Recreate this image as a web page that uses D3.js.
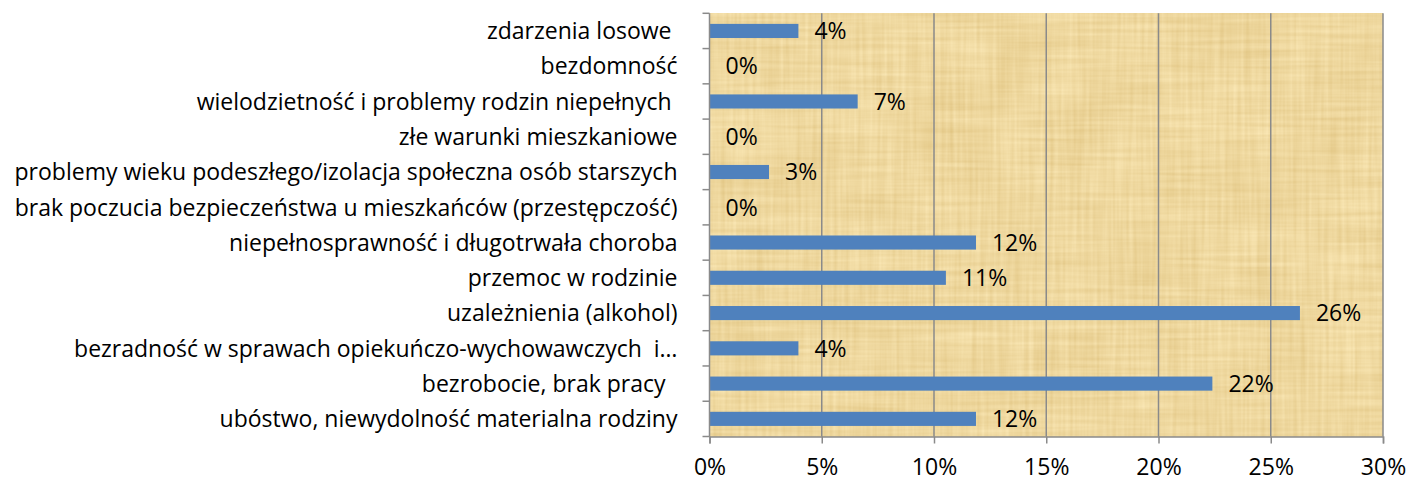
<!DOCTYPE html>
<html>
<head>
<meta charset="utf-8">
<script src="https://cdn.jsdelivr.net/npm/d3@7"></script>
<style>
  html, body { margin: 0; padding: 0; background: #fff; }
  svg text { font-family: "Open Sans", sans-serif; fill: #000; white-space: pre; }
</style>
</head>
<body>
<svg id="chart"></svg>
<script>
const WIDTH = 1410;
const HEIGHT = 481;

// categories, top to bottom as in the picture
const categories = [
    'zdarzenia losowe ',
    'bezdomność',
    'wielodzietność i problemy rodzin niepełnych ',
    'złe warunki mieszkaniowe',
    'problemy wieku podeszłego/izolacja społeczna osób starszych',
    'brak poczucia bezpieczeństwa u mieszkańców (przestępczość)',
    'niepełnosprawność i długotrwała choroba',
    'przemoc w rodzinie',
    'uzależnienia (alkohol)',
    'bezradność w sprawach opiekuńczo-wychowawczych  i…',
    'bezrobocie, brak pracy  ',
    'ubóstwo, niewydolność materialna rodziny'
];
// share in percent
const values = [3.96, 0, 6.6, 0, 2.65, 0, 11.87, 10.53, 26.3, 3.96, 22.4, 11.87];
// labels shown next to the bars
const valueLabels = ['4%', '0%', '7%', '0%', '3%', '0%', '12%', '11%', '26%', '4%', '22%', '12%'];
const xTicks = [0, 5, 10, 15, 20, 25, 30];

const FONT_SIZE = 23;
const margin = {top: 13.3, right: 27, bottom: 44.5, left: 709.5};
const innerW = WIDTH - margin.left - margin.right;
const innerH = HEIGHT - margin.top - margin.bottom;

const svg = d3.select('#chart')
    .attr('width', WIDTH)
    .attr('height', HEIGHT);

// parchment texture: crossed fibres plus some soft blotches
const defs = svg.append('defs');
const filter = defs.append('filter')
    .attr('id', 'papyrus')
    .attr('x', 0).attr('y', 0).attr('width', 1).attr('height', 1)
    .attr('color-interpolation-filters', 'sRGB');
const opaque = '1 0 0 0 0  1 0 0 0 0  1 0 0 0 0  0 0 0 0 1';
filter.append('feTurbulence')
    .attr('type', 'fractalNoise').attr('baseFrequency', '0.01 0.25')
    .attr('numOctaves', 2).attr('seed', 4).attr('result', 'hRaw');
filter.append('feColorMatrix').attr('in', 'hRaw').attr('values', opaque).attr('result', 'h');
filter.append('feTurbulence')
    .attr('type', 'fractalNoise').attr('baseFrequency', '0.25 0.01')
    .attr('numOctaves', 2).attr('seed', 9).attr('result', 'vRaw');
filter.append('feColorMatrix').attr('in', 'vRaw').attr('values', opaque).attr('result', 'v');
filter.append('feTurbulence')
    .attr('type', 'fractalNoise').attr('baseFrequency', '0.015')
    .attr('numOctaves', 2).attr('seed', 2).attr('result', 'bRaw');
filter.append('feColorMatrix').attr('in', 'bRaw').attr('values', opaque).attr('result', 'b');
filter.append('feComposite')
    .attr('in', 'h').attr('in2', 'v').attr('operator', 'arithmetic')
    .attr('k1', 0).attr('k2', 0.5).attr('k3', 0.5).attr('k4', 0).attr('result', 'hv');
filter.append('feComposite')
    .attr('in', 'hv').attr('in2', 'b').attr('operator', 'arithmetic')
    .attr('k1', 0).attr('k2', 0.8).attr('k3', 0.2).attr('k4', 0).attr('result', 'n');
filter.append('feColorMatrix')
    .attr('in', 'n')
    .attr('values', '0.16 0 0 0 0.855  0.22 0 0 0 0.735  0.32 0 0 0 0.46  0 0 0 0 1');

const x = d3.scaleLinear().domain([0, 30]).range([0, innerW]);
const yStep = d3.scaleBand().domain(d3.range(categories.length)).range([0, innerH]);
const y = d3.scaleBand().domain(d3.range(categories.length)).range([0, innerH])
    .paddingInner(0.6).paddingOuter(0.3);

const g = svg.append('g').attr('transform', `translate(${margin.left},${margin.top})`);

g.append('rect')
    .attr('width', innerW).attr('height', innerH)
    .attr('fill', '#eed9a4')
    .attr('filter', 'url(#papyrus)');

// vertical gridlines
g.append('g')
    .selectAll('line')
    .data(xTicks.slice(1))
    .enter()
    .append('line')
        .attr('x1', d => x(d)).attr('x2', d => x(d))
        .attr('y1', 0).attr('y2', innerH)
        .attr('stroke', '#8a8a8a').attr('stroke-width', 1.5);

// bars
g.append('g')
    .selectAll('rect')
    .data(values)
    .enter()
    .append('rect')
        .attr('x', 0)
        .attr('y', (d, i) => y(i))
        .attr('width', d => x(d))
        .attr('height', y.bandwidth())
        .attr('fill', '#4f81bd');

// value labels
g.append('g')
    .selectAll('text')
    .data(values)
    .enter()
    .append('text')
        .attr('x', d => x(d) + 16)
        .attr('y', (d, i) => y(i) + y.bandwidth() / 2)
        .attr('dy', '0.36em')
        .attr('font-size', FONT_SIZE)
        .text((d, i) => valueLabels[i]);

// left axis
const yAxis = g.append('g');
yAxis.append('line')
    .attr('x1', 0).attr('x2', 0).attr('y1', 0).attr('y2', innerH)
    .attr('stroke', '#8a8a8a').attr('stroke-width', 1.5);
yAxis.selectAll('line.tick')
    .data(d3.range(categories.length + 1))
    .enter()
    .append('line')
        .attr('class', 'tick')
        .attr('x1', -7).attr('x2', 0)
        .attr('y1', d => d * yStep.step()).attr('y2', d => d * yStep.step())
        .attr('stroke', '#8a8a8a').attr('stroke-width', 1.5);
yAxis.selectAll('text')
    .data(categories)
    .enter()
    .append('text')
        .attr('x', -32)
        .attr('y', (d, i) => yStep(i) + yStep.bandwidth() / 2)
        .attr('dy', '0.36em')
        .attr('text-anchor', 'end')
        .attr('font-size', FONT_SIZE)
        .text(d => d);

// bottom axis
const xAxis = g.append('g').attr('transform', `translate(0,${innerH})`)
    .call(d3.axisBottom(x).tickValues(xTicks).tickSize(7).tickPadding(15)
        .tickFormat(d => d + '%'));
xAxis.select('.domain').attr('stroke', '#8a8a8a').attr('stroke-width', 1.5);
xAxis.selectAll('.tick line').attr('stroke', '#8a8a8a').attr('stroke-width', 1.5);
xAxis.selectAll('.tick text')
    .attr('font-family', '"Open Sans", sans-serif')
    .attr('font-size', FONT_SIZE)
    .attr('fill', '#000');
</script>
</body>
</html>
